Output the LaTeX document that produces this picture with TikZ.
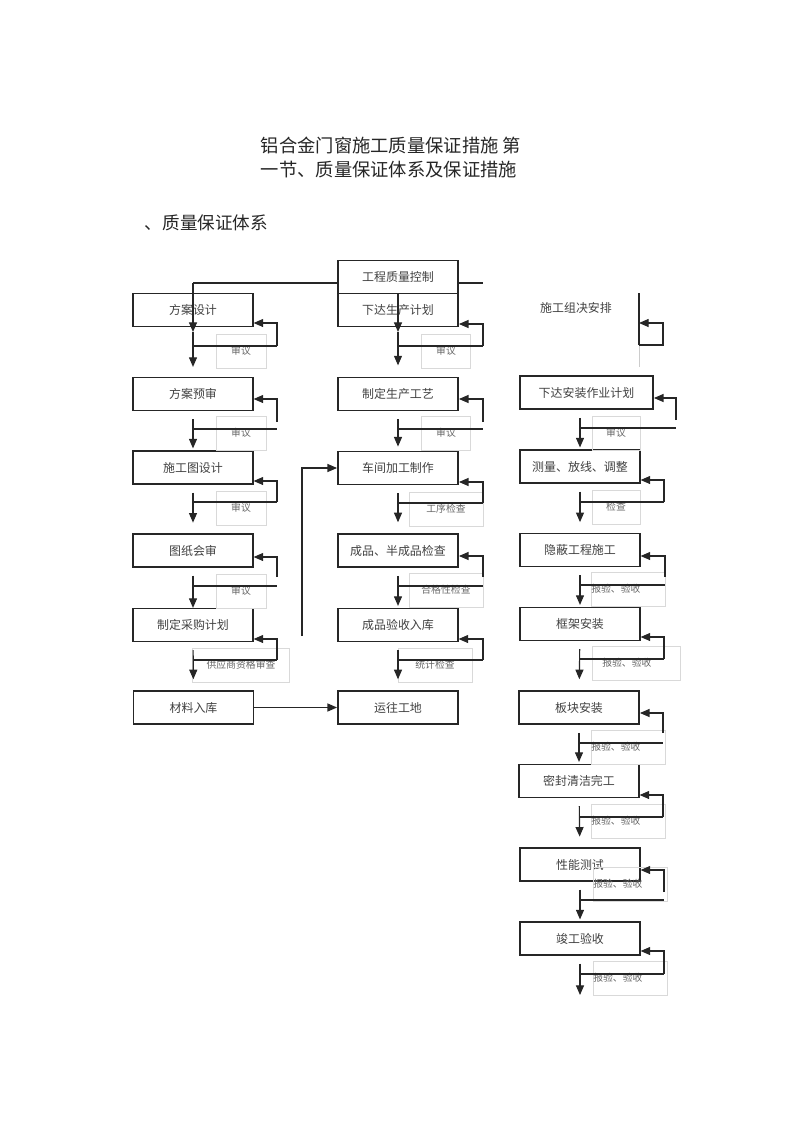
\documentclass[tikz,border=0pt]{standalone}
\usepackage{fontspec}
\setmainfont{Noto Sans CJK SC}
\usetikzlibrary{arrows.meta}

\tikzset{
  box/.style={draw=black!85, line width=0.8pt, minimum width=3cm, minimum height=0.825cm,
    inner sep=0pt, text=black!75, font=\fontsize{8.5}{10}\selectfont},
  heavy/.style={line width=1.3pt},
  note/.style={draw=black!15, line width=0.4pt, inner sep=0pt, minimum height=0.84cm,
    text=black!60, font=\fontsize{7}{8}\selectfont},
  rnote/.style={note, anchor=west, align=left, text width=1.85cm},
  line/.style={draw=black!85, line width=0.8pt},
  flow/.style={line, -{Triangle[length=2.4mm,width=2mm]}},
  down/.style={flow, shorten <=2mm},
  near/.style={shorten >=0.5mm},
  gap/.style={shorten >=2.7mm},
}

\begin{document}
\begin{tikzpicture}[x=0.025cm, y=-0.025cm]
\useasboundingbox (0,0) rectangle (800,1132);

% Titel
\node[anchor=west, align=left, text=black!85, font=\fontsize{13}{17.7}\selectfont] (title) at (256,157.5)
  {铝合金门窗施工质量保证措施 第\\一节、质量保证体系及保证措施};
\node[anchor=west, text=black!85, font=\fontsize{12.5}{15}\selectfont] (sub) at (140,223) {、质量保证体系};

% Linker kolom
\node[box] (fa1) at (193,310) {方案设计};
\node[box] (fa2) at (193,394) {方案预审};
\node[box] (fa3) at (193,467.5) {施工图设计};
\node[box] (fa4) at (193,550.5) {图纸会审};
\node[box] (fa5) at (193,625) {制定采购计划};
\node[box, heavy] (fa6) at (193.5,707.5) {材料入库};

% Middelste kolom
\node[box, heavy] (gc) at (398,277) {工程质量控制};
\node[box, heavy] (zd1) at (398,310) {下达生产计划};
\node[box, heavy] (zd2) at (398,394) {制定生产工艺};
\node[box, heavy] (zd3) at (398,468) {车间加工制作};
\node[box, heavy] (zd4) at (398,550.5) {成品、半成品检查};
\node[box] (zd5) at (398,625) {成品验收入库};
\node[box, heavy] (zd6) at (398,707.5) {运往工地};

% Rechter kolom
\node[text=black!75, font=\fontsize{8.5}{10}\selectfont] (sg) at (576,308) {施工组决安排};
\node[box, heavy, minimum width=3.325cm] (az1) at (586.5,392.5) {下达安装作业计划};
\node[box] (az2) at (580,466.5) {测量、放线、调整};
\node[box] (az3) at (580,550) {隐蔽工程施工};
\node[box] (az4) at (580,624) {框架安装};
\node[box, heavy] (az5) at (579,707.5) {板块安装};
\node[box] (az6) at (579,781) {密封清洁完工};
\node[box] (az7) at (580,864.5) {性能测试};
\node[box] (az8) at (580,938.5) {竣工验收};

% Opmerkingen
\node[note, minimum width=1.25cm] (fn1) at (241,351) {审议};
\node[note, minimum width=1.25cm] (fn2) at (241,433) {审议};
\node[note, minimum width=1.25cm] (fn3) at (241,508) {审议};
\node[note, minimum width=1.25cm] (fn4) at (241,591) {审议};
\node[note, minimum width=2.43cm] (fn5) at (241,665) {供应商资格审查};
\node[note, minimum width=1.23cm] (zn1) at (446,351) {审议};
\node[note, minimum width=1.23cm] (zn2) at (446,433) {审议};
\node[note, minimum width=1.85cm] (zn3) at (446,509) {工序检查};
\node[note, minimum width=1.85cm] (zn4) at (446,590) {合格性检查};
\node[note, minimum width=1.85cm] (zn5) at (435,665) {统计检查};
\node[note, minimum width=1.2cm] (an1) at (616,433) {审议};
\node[note, minimum width=1.2cm] (an2) at (616,507) {检查};
\node[rnote] (an3) at (591,589) {报验、验收};
\node[rnote, inner xsep=0.25cm, text width=1.7cm] (an4) at (592,663) {报验、验收};
\node[rnote] (an5) at (591,747) {报验、验收};
\node[rnote] (an6) at (591,821) {报验、验收};
\node[rnote] (an7) at (593,884) {报验、验收};
\node[rnote] (an8) at (593,978) {报验、验收};

% Start
\coordinate (tl) at (193,283);
\coordinate (tr) at (483,283);
\coordinate (m1) at (193,332);
\coordinate (m2) at (398,332);
\draw[line] (gc.west |- tl) -- (tl);
\draw[line] (gc.east |- tr) -- (tr);
\draw[flow] (tl) -- (m1);
\draw[flow, shorten >=2.5mm] (m1) -- (fa2);
\draw[flow] (gc.south) -- (m2);
\draw[flow, shorten >=2.8mm] (m2) -- (zd2);

% Pijlen omlaag
\draw[down, near] (fa2) -- (fa3);
\draw[down, gap] (fa3) -- (fa4);
\draw[down] (fa4) -- (fa5);
\draw[down, gap] (fa5) -- (fa6);
\draw[down, shorten >=1mm] (zd2) -- (zd3);
\draw[down, gap] (zd3) -- (zd4);
\draw[down, near] (zd4) -- (zd5);
\draw[down, gap] (zd5) -- (zd6);
\draw[down, near] (az1.south -| az2) -- (az2);
\draw[down, gap] (az2) -- (az3);
\draw[down, near] (az3) -- (az4);
\draw[down, gap] (az4) -- (az5);
\draw[down, near] (az5) -- (az6);
\draw[down, gap] (az6) -- (az7);
\draw[down, near] (az7) -- (az8);
\coordinate (eind) at (580,995);
\draw[down] (az8) -- (eind);

% Terugkoppeling
\foreach \n/\cx/\lx/\ay/\vy/\hy/\hx in {
  fa1/193/277/323/346/346/277, fa2/193/277/399/422/429/277,
  fa3/193/277/481/502/502/277, fa4/193/277/557/577/586/277,
  fa5/193/277/639/660/660/277,
  zd1/398/483/324/346/346/483, zd2/398/483/399/422/429/483,
  zd3/398/483/482/503/503/483, zd4/398/483/556/577/586/483,
  zd5/398/483/639/660/660/483,
  az1/580/676/398/420/428/676, az2/580/664/480/502/502/664,
  az3/580/665/556/577/585/665, az4/580/664/637/659/659/664,
  az5/580/663/713/733/743/663, az6/580/663/795/817/817/663,
  az7/580/664/870/892/900/664, az8/580/664/951/974/974/664}
{
  \draw[flow] (\lx,\vy) -- (\lx,\ay) -- (\n.east |- 0,\ay);
  \draw[line] (\cx,\hy) -- (\hx,\hy);
}

% Werkplaats
\coordinate (lp) at (302,636);
\draw[flow] (lp) |- (zd3.west);
\draw[flow] (fa6) -- (zd6);

% Ploeg
\coordinate (se1) at (639,293);
\coordinate (se2) at (639,345);
\coordinate (se3) at (639,367);
\draw[line] (se1) -- (se2);
\draw[draw=black!20, line width=0.6pt] (se2) -- (se3);
\draw[flow] (se2) -| (663,323) -- (se1 |- 0,323);
\end{tikzpicture}
\end{document}
